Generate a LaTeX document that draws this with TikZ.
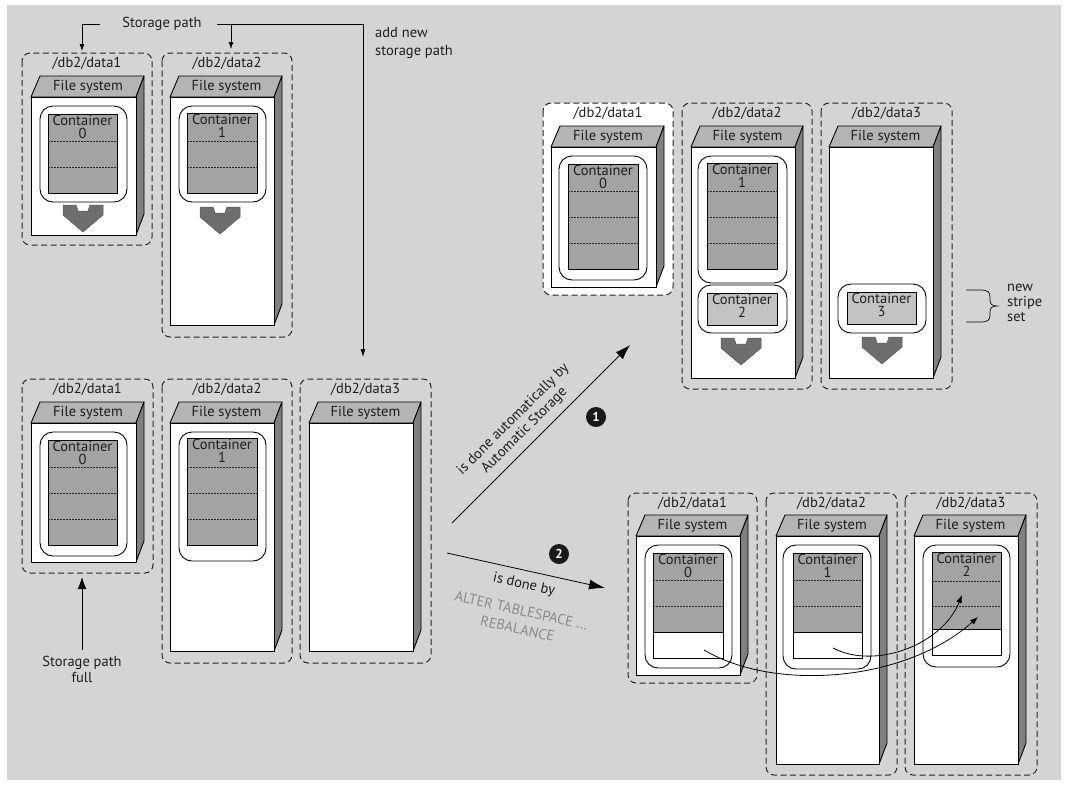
\documentclass[tikz,border=0pt]{standalone}
\usepackage{fontspec}
\setmainfont{PT Sans}
\usetikzlibrary{arrows.meta}
\definecolor{bg}{HTML}{D4D4D4}
\definecolor{topc}{HTML}{B4B4B4}
\definecolor{sidec}{HTML}{808080}
\definecolor{ctnc}{HTML}{A3A3A3}
\definecolor{ctnl}{HTML}{C3C3C3}
\definecolor{chevc}{HTML}{6E6E6E}
\definecolor{txtc}{HTML}{1E1E1E}
\definecolor{graytxt}{HTML}{8A8A8A}

% file system block: name, x1, x2, ytop(front), ybottom
\newcommand\fsys[5]{%
  \filldraw[fill=topc,draw=black,line width=0.9pt,line join=round] (#2,#4) -- ({#2+9},{#4-21}) -- ({#3+8},{#4-21}) -- (#3,#4) -- cycle;
  \filldraw[fill=sidec,draw=black,line width=0.9pt,line join=round] (#3,#4) -- ({#3+8},{#4-21}) -- ({#3+8},{#5-21}) -- (#3,#5) -- cycle;
  \filldraw[fill=white,draw=black,line width=0.9pt] (#2,#4) rectangle (#3,#5);
  \node[txt] (#1) at ({(#2+#3)/2+4.5},{#4-10.5}) {File system};
}
% dashed group: name, x1, y1, x2, y2, label, extra style
\newcommand\grp[7]{%
  \draw[grpbox,#7] (#2,#3) rectangle (#4,#5);
  \coordinate (#1t) at ({(#2+#4)/2},#3);
  \node[txt] (#1) at ({(#2+#4)/2},{#3+10.5}) {#6};
}
% container holder (white rounded)
\newcommand\holder[4]{\draw[holderst] (#1,#2) rectangle (#3,#4);}
% container: name x1 y1 x2 y2 number fillcolor
\newcommand\ctn[7]{%
  \filldraw[fill=#7,draw=black,line width=0.9pt] (#2,#3) rectangle (#4,#5);
  \node[ctxt,anchor=north] (#1) at ({(#2+#4)/2},{#3+1}) {Container\\#6};
}
\newcommand\dl[3]{\draw[dline] (#1,#3) -- (#2,#3);}
\newcommand\chev[2]{%
  \filldraw[fill=chevc,draw=black!65,line width=0.5pt,line join=round] ({#1-20},#2) -- ({#1-7},#2) -- ({#1-5},{#2+6}) -- ({#1+5},{#2+6}) -- ({#1+7},#2) -- ({#1+20},#2) -- ({#1+20},{#2+10}) -- (#1,{#2+27}) -- ({#1-20},{#2+10}) -- cycle;}

\begin{document}
\begin{tikzpicture}[x=1pt,y=-1pt,
  txt/.style={font=\fontsize{14.5}{13}\selectfont, text=txtc, inner sep=0pt, align=center},
  ctxt/.style={font=\fontsize{14.5}{13}\selectfont, text=txtc, inner sep=0pt, align=center},
  grpbox/.style={draw=black!85, dash pattern=on 6pt off 3.5pt, line width=1pt, rounded corners=8pt},
  holderst/.style={draw=black, fill=white, line width=0.9pt, rounded corners=13pt},
  dline/.style={draw=black!85, dash pattern=on 2pt off 1pt, line width=0.7pt},
  conn/.style={draw=black, line width=0.8pt},
  numc/.style={circle, fill=black!90, text=white, inner sep=0pt, minimum size=20pt, font=\fontsize{13}{13}\selectfont\bfseries}
]
\useasboundingbox (0,0) rectangle (1065,785);
\fill[bg] (7,5) rectangle (1061,780);

% ===== top left =====
\grp{gtl1}{22}{53}{152}{245}{/db2/data1}{}
\grp{gtl2}{162}{53}{292}{337}{/db2/data2}{}
\fsys{fstl1}{31}{136}{97}{235}
\fsys{fstl2}{170}{274}{97}{325}
\holder{40}{106}{127}{202}
\holder{179}{106}{266}{202}
\ctn{ctl0}{48}{114}{117}{193}{0}{ctnc}
\ctn{ctl1}{187}{113}{257}{193}{1}{ctnc}
\dl{48}{117}{141}\dl{48}{117}{167}
\dl{187}{257}{141}\dl{187}{257}{167}
\chev{83}{205}
\chev{220}{207}

% ===== bottom left =====
\grp{gbl1}{22}{379}{153}{573}{/db2/data1}{}
\grp{gbl2}{162}{379}{292}{663}{/db2/data2}{}
\grp{gbl3}{300}{379}{431}{663}{/db2/data3}{}
\fsys{fsbl1}{31}{136}{423}{562}
\fsys{fsbl2}{170}{274}{423}{651}
\fsys{fsbl3}{309}{413}{423}{651}
\holder{40}{432}{127}{556}
\holder{179}{432}{266}{561}
\ctn{cbl0}{48}{440}{117}{545}{0}{ctnc}
\ctn{cbl1}{187}{438}{257}{545}{1}{ctnc}
\dl{48}{117}{467}\dl{48}{117}{493}\dl{48}{117}{519}
\dl{187}{257}{467}\dl{187}{257}{493}\dl{187}{257}{519}

% ===== top right =====
\grp{gtr1}{543}{103}{673}{295}{/db2/data1}{fill=white}
\grp{gtr2}{682}{103}{812}{389}{/db2/data2}{}
\grp{gtr3}{821}{103}{952}{389}{/db2/data3}{}
\fsys{fstr1}{551}{656}{147}{287}
\fsys{fstr2}{691}{795}{147}{378}
\fsys{fstr3}{829}{933}{147}{378}
\holder{559}{156}{647}{280}
\holder{698}{156}{787}{283}
\holder{698}{285}{787}{333}
\holder{838}{284}{926}{333}
\ctn{ctr0}{568}{164}{638}{269}{0}{ctnc}
\ctn{ctr1}{707}{163}{777}{269}{1}{ctnc}
\ctn{ctr2}{707}{293}{777}{325}{2}{ctnl}
\ctn{ctr3}{847}{292}{916}{324}{3}{ctnl}
\dl{568}{638}{191}\dl{568}{638}{217}\dl{568}{638}{243}
\dl{707}{777}{191}\dl{707}{777}{217}\dl{707}{777}{243}
\chev{741}{338}
\chev{882}{337}

% brace
\coordinate (brt) at (966,290);
\coordinate (brb) at (966,322);
\draw[conn,line width=0.7pt] (brt) -- (980,290) .. controls (988,290) and (990,292) .. (990,297) -- (990,300) .. controls (990,304) and (992,306) .. (997,306) .. controls (992,306) and (990,308) .. (990,312) -- (990,315) .. controls (990,320) and (988,322) .. (980,322) -- (brb);
\node[txt,align=left,anchor=west,font=\fontsize{14.5}{15}\selectfont] (nss) at (1007,303) {new\\stripe\\set};

% ===== bottom right =====
\grp{gbr1}{628}{493}{757}{683}{/db2/data1}{}
\grp{gbr2}{766}{493}{897}{775}{/db2/data2}{}
\grp{gbr3}{905}{493}{1037}{775}{/db2/data3}{}
\fsys{fsbr1}{636}{740}{536}{675}
\fsys{fsbr2}{776}{879}{536}{764}
\fsys{fsbr3}{914}{1018}{536}{764}
\holder{645}{545}{732}{668}
\holder{783}{545}{871}{669}
\holder{923}{545}{1010}{667}
\fill[white] (653,632) rectangle (723,658);
\fill[white] (793,632) rectangle (862,658);
\fill[white] (932,629) rectangle (1001,655);
\fill[ctnc] (653,553) rectangle (723,632);
\fill[ctnc] (793,553) rectangle (862,632);
\fill[ctnc] (932,552) rectangle (1001,629);
\draw[line width=0.9pt] (653,553) rectangle (723,658) (653,632) -- (723,632);
\draw[line width=0.9pt] (793,553) rectangle (862,658) (793,632) -- (862,632);
\draw[line width=0.9pt] (932,552) rectangle (1001,655) (932,629) -- (1001,629);
\node[ctxt,anchor=north] (cbr0) at (688,554) {Container\\0};
\node[ctxt,anchor=north] (cbr1) at (827.5,554) {Container\\1};
\node[ctxt,anchor=north] (cbr2) at (966.5,553) {Container\\2};
\dl{653}{723}{580}\dl{653}{723}{606}
\dl{793}{862}{580}\dl{793}{862}{606}
\dl{932}{1001}{581}\dl{932}{1001}{606}

% rebalance arrows
\coordinate (ra1) at (704,650);
\coordinate (rb1) at (978,617);
\coordinate (ra2) at (833,648);
\coordinate (rb2) at (962,595);
\draw[conn,-{Latex[length=8pt,width=6pt]}] (ra1) .. controls (775,692) and (905,682) .. (rb1);
\draw[conn,-{Latex[length=8pt,width=6pt]}] (ra2) .. controls (875,670) and (942,645) .. (rb2);

% ===== storage path arrows =====
\node[txt] (sp) at (162,24) {Storage path};
\coordinate (spl) at (100,24);
\coordinate (splc) at (82,24);
\coordinate (spld) at (82,51);
\coordinate (spr) at (217,24);
\coordinate (sprc) at (231,24);
\coordinate (sprd) at (231,49);
\coordinate (spfar) at (363,24);
\coordinate (newt) at (363,357);
\draw[conn,-{Latex[length=7pt,width=5pt]}] (spl) -- (splc) -- (spld);
\draw[conn] (spr) -- (spfar);
\draw[conn,-{Latex[length=7pt,width=5pt]}] (sprc) -- (sprd);
\draw[conn,-{Latex[length=8pt,width=5pt]}] (spfar) -- (newt);
\node[txt,align=left,anchor=north west,font=\fontsize{14.5}{18.5}\selectfont] (addnew) at (375,27) {add new\\storage path};

% storage path full
\coordinate (spfb) at (82,650);
\coordinate (spft) at (82,577);
\draw[conn,line width=1pt,-{Latex[length=12pt,width=9pt]}] (spfb) -- (spft);
\node[txt,font=\fontsize{14.5}{16}\selectfont] (spf) at (82,669) {Storage path\\full};

% ===== main arrows =====
\coordinate (a1s) at (452,523);
\coordinate (a1e) at (630,345);
\draw[conn,-{Latex[length=15pt,width=10pt]}] (a1s) -- (a1e);
\node[txt,rotate=45,font=\fontsize{14.5}{16}\selectfont] (lab1) at (519,425) {is done automatically by\\Automatic Storage};
\node[numc] (n1) at (596,417) {1};

\coordinate (a2s) at (447,553);
\coordinate (a2e) at (605,588);
\draw[conn,-{Latex[length=16pt,width=10pt]}] (a2s) -- (a2e);
\node[txt,rotate=-12.5] (lab2) at (524,585) {is done by};
\node[txt,rotate=-12.5,text=graytxt,font=\fontsize{14.5}{18.5}\selectfont] (lab3) at (519.5,619.5) {ALTER TABLESPACE ...\\REBALANCE};
\node[numc] (n2) at (559,554) {2};
\end{tikzpicture}
\end{document}
